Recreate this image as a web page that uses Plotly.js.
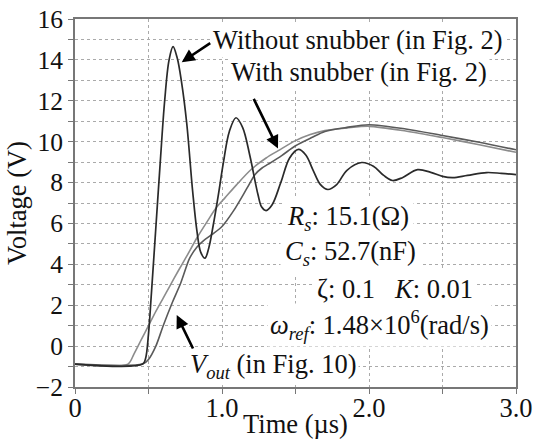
<!DOCTYPE html>
<html>
<head>
<meta charset="utf-8">
<script src="https://cdn.plot.ly/plotly-3.0.1.min.js"></script>
<style>html,body{margin:0;padding:0;background:#fff;}#chart{width:541px;height:439px;}</style>
</head>
<body>
<div id="chart"></div>
<script>
// Without snubber (in Fig. 2)
const tWithout = [0, 0.46, 0.48, 0.50, 0.52, 0.55, 0.58, 0.61, 0.64, 0.667, 0.695, 0.725, 0.76, 0.80, 0.83, 0.855, 0.884, 0.91, 0.94, 0.973, 1.01, 1.05, 1.095, 1.14, 1.19, 1.245, 1.27, 1.30, 1.34, 1.40, 1.46, 1.52, 1.57, 1.62, 1.67, 1.72, 1.78, 1.85, 1.95, 2.03, 2.10, 2.16, 2.23, 2.33, 2.42, 2.50, 2.57, 2.67, 2.80, 2.90, 3.00];
const vWithout = [-0.88, -0.88, -0.6, 0.6, 2.6, 5.8, 9.0, 12.0, 14.0, 14.65, 14.1, 12.9, 10.9, 7.6, 5.6, 4.6, 4.3, 4.8, 5.9, 7.3, 9.0, 10.5, 11.17, 10.7, 9.3, 7.4, 6.8, 6.63, 6.9, 8.0, 9.2, 9.62, 9.35, 8.6, 7.9, 7.66, 7.9, 8.6, 8.98, 8.8, 8.35, 8.1, 8.25, 8.63, 8.5, 8.3, 8.24, 8.35, 8.49, 8.45, 8.39];

// With snubber (in Fig. 2)
const tWith = [0, 0.36, 0.40, 0.45, 0.50, 0.55, 0.60, 0.646, 0.70, 0.76, 0.83, 0.90, 0.964, 1.02, 1.10, 1.20, 1.30, 1.383, 1.50, 1.60, 1.70, 1.85, 2.00, 2.25, 2.50, 2.75, 3.00];
const vWith = [-0.88, -0.88, -0.4, 0.3, 1.0, 1.7, 2.35, 2.95, 3.65, 4.4, 5.3, 6.1, 6.8, 7.25, 7.9, 8.65, 9.2, 9.56, 10.05, 10.35, 10.54, 10.67, 10.75, 10.52, 10.2, 9.85, 9.48];

// Vout (in Fig. 10)
const tVout = [0, 0.46, 0.50, 0.55, 0.60, 0.66, 0.72, 0.78, 0.83, 0.873, 0.93, 1.00, 1.077, 1.168, 1.225, 1.27, 1.315, 1.406, 1.50, 1.61, 1.70, 1.85, 2.00, 2.25, 2.50, 2.75, 3.00];
const vVout = [-0.88, -0.88, -0.65, 0.0, 1.0, 2.1, 3.1, 4.3, 4.85, 5.15, 5.45, 5.85, 6.6, 7.7, 8.4, 8.7, 8.9, 9.32, 9.8, 10.2, 10.5, 10.7, 10.83, 10.62, 10.3, 9.97, 9.6];

const xTickVals = [0, 1, 2, 3];
const xTickText = ['0', '1.0', '2.0', '3.0'];
const yTickVals = [-2, 0, 2, 4, 6, 8, 10, 12, 14, 16];

const FONT = 'Liberation Serif';

const traces = [
  {x: tWith, y: vWith, mode: 'lines', line: {color: '#8c8c8c', width: 1.6, shape: 'spline', smoothing: 0.8}, hoverinfo: 'skip'},
  {x: tVout, y: vVout, mode: 'lines', line: {color: '#5a5a5a', width: 1.6, shape: 'spline', smoothing: 0.8}, hoverinfo: 'skip'},
  {x: tWithout, y: vWithout, mode: 'lines', line: {color: '#2a2a2a', width: 1.7, shape: 'spline', smoothing: 1.0}, hoverinfo: 'skip'}
];

const txt = {family: FONT, size: 26.5, color: '#111'};
const arrowCommon = {showarrow: true, text: '', arrowhead: 2, arrowsize: 1, arrowwidth: 2.6, arrowcolor: '#000', axref: 'pixel', ayref: 'pixel', standoff: 0};

const annotations = [
  {x: 1.925, y: 14.95, xref: 'x', yref: 'y', text: 'Without snubber (in Fig. 2)', showarrow: false, font: txt, bgcolor: '#fff', borderpad: 2, xanchor: 'center', yanchor: 'middle'},
  {x: 1.932, y: 13.39, xref: 'x', yref: 'y', text: 'With snubber (in Fig. 2)', showarrow: false, font: txt, bgcolor: '#fff', borderpad: 2, xanchor: 'center', yanchor: 'middle'},
  {x: 1.408, y: 6.26, xref: 'x', yref: 'y', text: '<i>R<sub>s</sub></i>: 15.1(Ω)', showarrow: false, font: txt, bgcolor: '#fff', borderpad: 4, xanchor: 'left', yanchor: 'middle'},
  {x: 1.395, y: 4.55, xref: 'x', yref: 'y', text: '<i>C<sub>s</sub></i>: 52.7(nF)', showarrow: false, font: txt, bgcolor: '#fff', borderpad: 4, xanchor: 'left', yanchor: 'middle'},
  {x: 1.619, y: 2.79, xref: 'x', yref: 'y', text: 'ζ: 0.1\u00a0\u00a0\u00a0<i>K</i>: 0.01', showarrow: false, font: txt, bgcolor: '#fff', borderpad: 3, xanchor: 'left', yanchor: 'middle'},
  {x: 1.306, y: 1.03, xref: 'x', yref: 'y', text: '<i>ω<sub>ref</sub></i>: 1.48×10<sup>6</sup>(rad/s)', showarrow: false, font: txt, bgcolor: '#fff', borderpad: 2, xanchor: 'left', yanchor: 'middle'},
  {x: 0.769, y: -0.98, xref: 'x', yref: 'y', text: '<i>V<sub>out</sub></i> (in Fig. 10)', showarrow: false, font: txt, bgcolor: '#fff', borderpad: 1, xanchor: 'left', yanchor: 'middle'},
  Object.assign({x: 0.726, y: 13.89, xref: 'x', yref: 'y', ax: 30, ay: -20}, arrowCommon),
  Object.assign({x: 1.381, y: 9.67, xref: 'x', yref: 'y', ax: -25, ay: -51}, arrowCommon),
  Object.assign({x: 0.692, y: 1.52, xref: 'x', yref: 'y', ax: 17, ay: 35}, arrowCommon)
];

const layout = {
  width: 541, height: 439,
  margin: {l: 75, r: 25, t: 19, b: 52},
  paper_bgcolor: '#fff', plot_bgcolor: '#fff',
  showlegend: false,
  font: {family: FONT, size: 25, color: '#111'},
  xaxis: {
    range: [0, 3], tickvals: xTickVals, ticktext: xTickText,
    ticks: 'outside', ticklen: 5, tickcolor: '#777', tickwidth: 1,
    showline: true, linecolor: '#777', linewidth: 2, mirror: true,
    showgrid: true, gridcolor: '#aaa', griddash: 'dot', gridwidth: 1,
    zeroline: false, ticklabelstandoff: -9, automargin: false,
    tickfont: {family: FONT, size: 26.5, color: '#111'},
    minor: {dtick: 0.5, tick0: 0, ticks: 'outside', ticklen: 5, tickcolor: '#777', showgrid: true, gridcolor: '#aaa', griddash: 'dot', gridwidth: 1},
    title: {text: 'Time (µs)', font: {family: FONT, size: 26.5, color: '#111'}}
  },
  yaxis: {
    range: [-2, 16], tickvals: yTickVals,
    ticks: 'outside', ticklen: 5, tickcolor: '#777', tickwidth: 1,
    showline: true, linecolor: '#777', linewidth: 2, mirror: true,
    showgrid: true, gridcolor: '#aaa', griddash: 'dot', gridwidth: 1,
    zeroline: false, automargin: 'left',
    tickfont: {family: FONT, size: 25.5, color: '#111'},
    minor: {dtick: 1, tick0: 0, ticks: 'outside', ticklen: 5, tickcolor: '#777', showgrid: true, gridcolor: '#aaa', griddash: 'dot', gridwidth: 1},
    title: {text: 'Voltage (V)', font: {family: FONT, size: 26.5, color: '#111'}, standoff: 1}
  },
  annotations: annotations
};

Plotly.newPlot('chart', traces, layout, {staticPlot: true, displayModeBar: false});
</script>
</body>
</html>
